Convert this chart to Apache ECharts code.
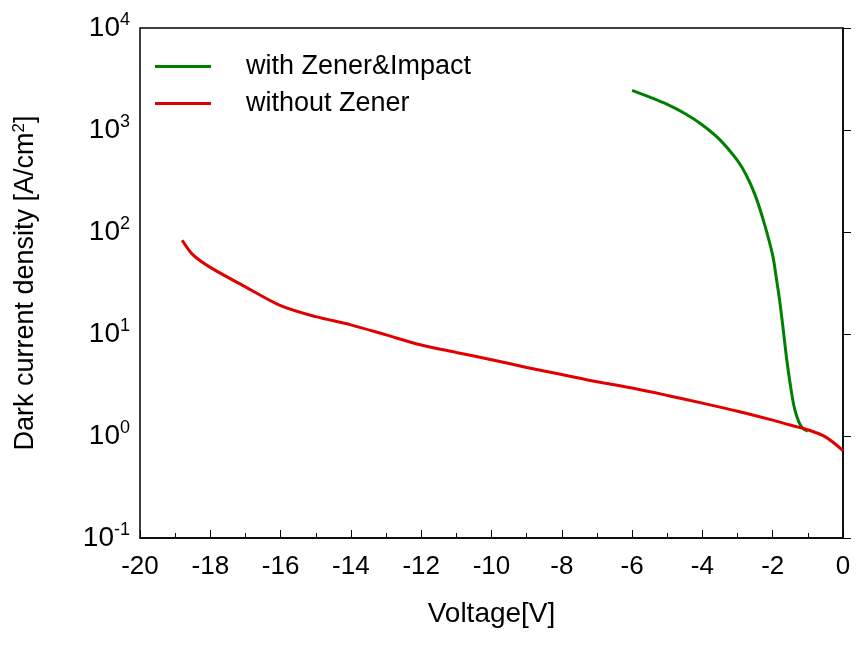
<!DOCTYPE html>
<html><head><meta charset="utf-8">
<script src="https://cdn.jsdelivr.net/npm/echarts@6/dist/echarts.min.js"></script>
<style>html,body{margin:0;padding:0;background:#fff}#c{width:865px;height:663px}</style>
</head><body><div id="c"></div>
<script>
const redX = [-18.8,-18.5,-18,-17,-16,-15,-14,-13,-12,-11,-10,-9,-8,-7,-6,-5,-4,-3,-2,-1.5,-1,-0.5,0];
const redY = [83,60,45,29,19,14.8,12.3,9.8,7.8,6.6,5.6,4.7,4.0,3.4,2.95,2.5,2.1,1.75,1.43,1.28,1.15,0.98,0.72];
const greenX = [-6,-5.5,-5,-4.5,-4,-3.5,-3,-2.75,-2.5,-2.25,-2,-1.9,-1.8,-1.7,-1.6,-1.5,-1.4,-1.3,-1.2,-1.1,-1.0];
const greenY = [2450,2100,1780,1450,1120,800,500,360,230,125,59,36,21,11,5.6,3.2,2.0,1.5,1.26,1.16,1.12];
const yTicks = [0.1,1,10,100,1000,10000];
const chart = echarts.init(document.getElementById('c'));
const F = 'Arial, "Liberation Sans", sans-serif';
const pair = (xs, ys) => xs.map((x,i)=>[x, ys[i]]);
chart.setOption({
  animation:false,
  grid:{left:140,right:22,top:28,bottom:125,show:true,borderColor:'#000',borderWidth:1.5},
  legend:{left:150,top:48,orient:'vertical',itemWidth:56,itemHeight:3,itemGap:10,icon:'rect',
    textStyle:{fontFamily:F,fontSize:27,color:'#000',padding:[0,0,0,30]}},
  xAxis:{type:'value',min:-20,max:0,interval:2,name:'Voltage[V]',nameLocation:'middle',nameGap:62,
    nameTextStyle:{fontFamily:F,fontSize:28,color:'#000'},
    axisLine:{lineStyle:{color:'#000',width:1.5}},axisTick:{inside:true,length:8,lineStyle:{color:'#000'}},
    minorTick:{show:true,splitNumber:2,length:5,lineStyle:{color:'#000'}},
    axisLabel:{fontFamily:F,fontSize:26,color:'#000',margin:16},splitLine:{show:false}},
  yAxis:{type:'log',logBase:10,min:0.1,max:10000,name:'Dark current density [A/cm{s|2}]',
    nameLocation:'middle',nameGap:100,
    nameTextStyle:{fontFamily:F,fontSize:27,color:'#000',rich:{s:{fontSize:17,verticalAlign:'top',padding:[0,0,12,0],color:'#000',fontFamily:F}}},
    axisLine:{lineStyle:{color:'#000',width:1.5}},axisTick:{inside:true,length:8,lineStyle:{color:'#000'}},
    splitLine:{show:false},
    axisLabel:{margin:10,formatter:v=>{const e=Math.round(Math.log10(v));return '{b|10}{e|'+e+'}';},
      rich:{b:{fontFamily:F,fontSize:28,color:'#000'},e:{fontFamily:F,fontSize:18,color:'#000',padding:[0,0,16,0]}}}},
  series:[
    {name:'with Zener&Impact',type:'line',data:pair(greenX,greenY),smooth:0.3,showSymbol:false,lineStyle:{color:'#008000',width:3},itemStyle:{color:'#008000'}},
    {name:'without Zener',type:'line',data:pair(redX,redY),smooth:0.3,showSymbol:false,lineStyle:{color:'#e00000',width:3},itemStyle:{color:'#e00000'}}
  ]
});
</script></body></html>
